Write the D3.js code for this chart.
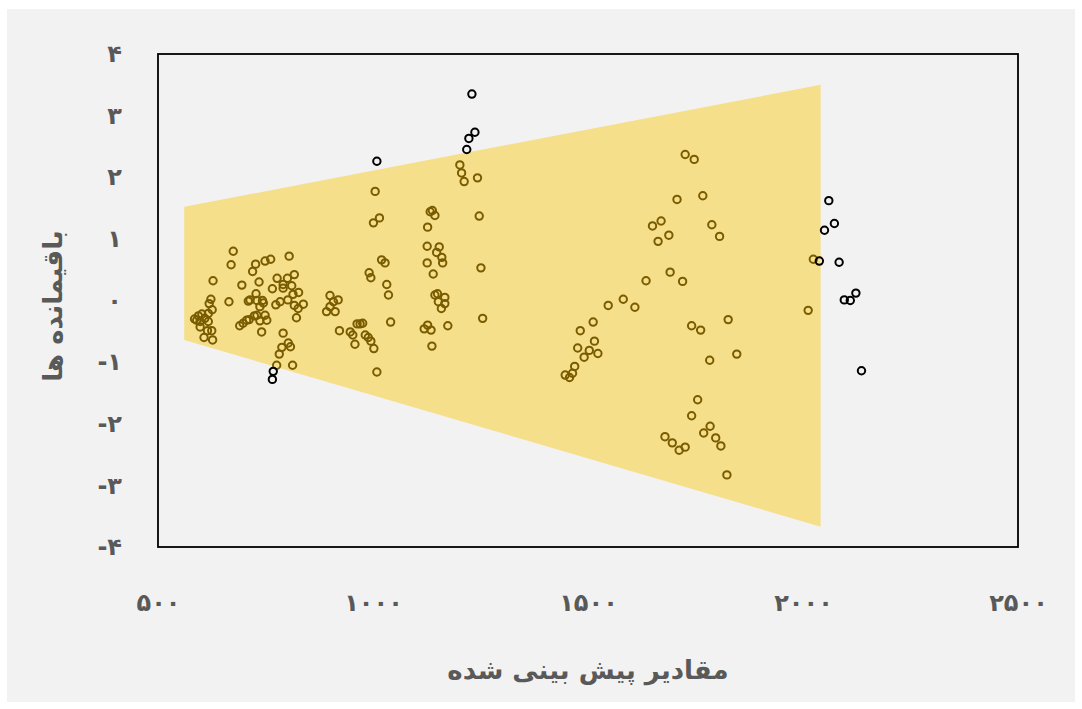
<!DOCTYPE html>
<html>
<head>
<meta charset="utf-8">
<script src="https://cdn.jsdelivr.net/npm/d3@7"></script>
<style>
  body { margin: 0; background: #ffffff; }
  text { font-family: "DejaVu Sans", sans-serif; font-weight: bold; fill: #595959; }
</style>
</head>
<body>
<div id="chart"></div>
<script>
var W = 1082, H = 709;

// predicted value / residual pairs inside the band
var predicted = [585,594,602,609,598,617,598,615,625,607,627,617,619,623,626,628,665,675,670,695,690,698,590,706,712,724,730,737,753,749,745,737,728,714,730,743,710,727,749,762,805,720,735,777,817,801,791,766,811,791,827,814,802,784,774,817,838,826,822,741,791,803,808,788,782,776,813,
  900,919,908,892,900,912,922,947,953,958,963,970,976,982,989,995,1002,1009,1005,1015,1001,1020,1028,991,995,1032,1036,1041,
  1202,1206,1212,1243,1133,1138,1144,1127,1247,1126,1154,1148,1160,1126,1162,1140,1251,1144,1150,1167,1152,1167,1159,1255,1127,1119,1135,1174,1137,
  1726,1747,1707,1767,1670,1650,1688,1663,1788,1806,1691,1635,1720,1582,1547,1609,1512,1482,1826,1741,1762,1515,1476,1503,1523,1491,1846,1783,1469,1464,1447,1457,1755,1741,1784,1769,1679,1797,1696,1809,1726,1712,1823,
  2024,2012];
var residual = [-0.30,-0.25,-0.22,-0.29,-0.34,-0.34,-0.43,-0.49,-0.49,-0.60,-0.64,-0.21,-0.05,0.02,-0.15,0.32,-0.02,0.80,0.58,0.25,-0.41,-0.37,-0.32,-0.32,-0.31,-0.25,-0.24,-0.33,-0.32,-0.24,-0.04,-0.10,0.11,0.01,0.00,0.00,-0.01,0.59,0.64,0.67,0.72,0.47,0.30,0.36,0.42,0.36,0.26,0.19,0.24,0.20,0.13,0.10,0.01,-0.02,-0.07,-0.08,-0.06,-0.13,-0.28,-0.51,-0.53,-0.69,-0.75,-0.76,-0.87,-1.05,-1.05,
  0.08,0.01,-0.02,-0.18,-0.10,-0.18,-0.49,-0.51,-0.56,-0.71,-0.38,-0.38,-0.37,-0.56,-0.60,-0.66,-0.78,-1.16,1.77,1.34,1.26,0.66,0.61,0.45,0.37,0.26,0.09,-0.35,
  2.20,2.07,1.93,1.99,1.44,1.46,1.38,1.19,1.37,0.88,0.87,0.78,0.70,0.61,0.61,0.43,0.53,0.09,0.11,0.05,-0.02,-0.05,-0.13,-0.29,-0.40,-0.46,-0.48,-0.41,-0.74,
  2.37,2.29,1.64,1.70,1.29,1.21,1.06,0.96,1.23,1.04,0.46,0.32,0.31,0.02,-0.08,-0.11,-0.35,-0.49,-0.31,-0.41,-0.48,-0.66,-0.77,-0.81,-0.86,-0.92,-0.87,-0.97,-1.07,-1.18,-1.21,-1.25,-1.61,-1.87,-2.04,-2.15,-2.21,-2.23,-2.31,-2.36,-2.38,-2.43,-2.83,
  0.67,-0.16];

// points outside the band
var outPredicted = [768,766,1009,1230,1237,1223,1218,2060,2073,2050,2038,2084,2123,2096,2110,2136];
var outResidual = [-1.15,-1.28,2.26,3.35,2.73,2.63,2.45,1.62,1.25,1.14,0.64,0.62,0.12,0.01,0.00,-1.14];

// band edges
var bandX = [561, 2041];
var bandUpper = [1.52, 3.50];
var bandLower = [-0.64, -3.67];

var xTicks = [500, 1000, 1500, 2000, 2500];
var yTicks = [-4, -3, -2, -1, 0, 1, 2, 3, 4];

var xTitle = "مقادیر پیش بینی شده";
var yTitle = "باقیمانده ها";

function fa(v) {
  var s = String(Math.abs(v)).replace(/\d/g, function(d) { return "۰۱۲۳۴۵۶۷۸۹"[d]; });
  return v < 0 ? "-" + s : s;
}

var x = d3.scaleLinear().domain([500, 2500]).range([158, 1018]);
var y = d3.scaleLinear().domain([-4, 4]).range([547, 54]);

var svg = d3.select("#chart").append("svg")
  .attr("width", W).attr("height", H);

svg.append("rect")
  .attr("x", 7).attr("y", 9)
  .attr("width", 1068).attr("height", 693)
  .attr("fill", "#f2f2f2");

// band
var band = bandX.map(function(d, i) { return { x: d, hi: bandUpper[i], lo: bandLower[i] }; });
var area = d3.area()
  .x(function(d) { return x(d.x); })
  .y0(function(d) { return y(d.lo); })
  .y1(function(d) { return y(d.hi); });

svg.append("path")
  .datum(band)
  .attr("d", area)
  .attr("fill", "#f6df8b");

// frame
svg.append("rect")
  .attr("x", x(500)).attr("y", y(4))
  .attr("width", x(2500) - x(500)).attr("height", y(-4) - y(4))
  .attr("fill", "none")
  .attr("stroke", "#000")
  .attr("stroke-width", 1.8);

// axes
var xAxis = svg.append("g")
  .attr("transform", "translate(0," + y(-4) + ")")
  .call(d3.axisBottom(x).tickValues(xTicks).tickSize(0).tickPadding(0).tickFormat(fa));
xAxis.select(".domain").remove();
xAxis.selectAll("text")
  .attr("y", 64).attr("dy", null)
  .style("font-size", "24px")
  .style("font-family", "DejaVu Sans")
  .attr("fill", "#595959");

var yAxis = svg.append("g")
  .attr("transform", "translate(122,0)")
  .call(d3.axisLeft(y).tickValues(yTicks).tickSize(0).tickPadding(0).tickFormat(fa));
yAxis.select(".domain").remove();
yAxis.selectAll("text")
  .attr("x", 0)
  .style("font-size", "24px")
  .style("font-family", "DejaVu Sans")
  .attr("fill", "#595959");

// points
var pts = predicted.map(function(d, i) { return [d, residual[i]]; });
svg.append("g").selectAll("circle")
  .data(pts)
  .join("circle")
  .attr("cx", function(d) { return x(d[0]); })
  .attr("cy", function(d) { return y(d[1]); })
  .attr("r", 3.7)
  .attr("fill", "none")
  .attr("stroke", "#7a5c00")
  .attr("stroke-width", 2);

var outPts = outPredicted.map(function(d, i) { return [d, outResidual[i]]; });
svg.append("g").selectAll("circle")
  .data(outPts)
  .join("circle")
  .attr("cx", function(d) { return x(d[0]); })
  .attr("cy", function(d) { return y(d[1]); })
  .attr("r", 3.7)
  .attr("fill", "none")
  .attr("stroke", "#000")
  .attr("stroke-width", 2);

// titles
svg.append("text")
  .attr("x", 588).attr("y", 679)
  .attr("text-anchor", "middle")
  .style("font-size", "26px")
  .text(xTitle);

svg.append("text")
  .attr("transform", "translate(62,306) rotate(-90)")
  .attr("text-anchor", "middle")
  .style("font-size", "26px")
  .text(yTitle);
</script>
</body>
</html>
